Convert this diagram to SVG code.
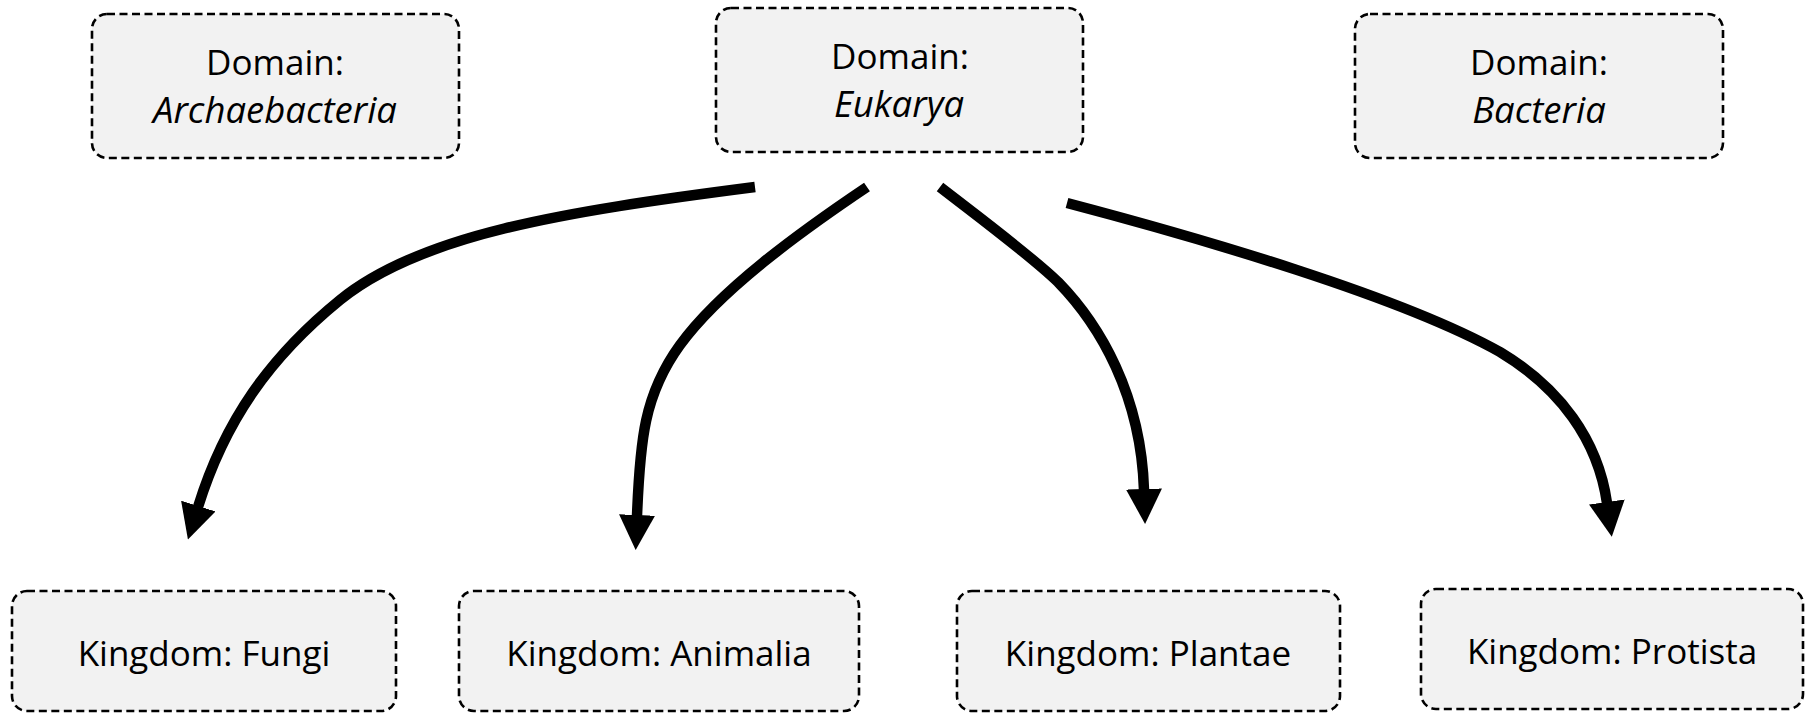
<svg xmlns="http://www.w3.org/2000/svg" width="1814" height="715" viewBox="0 0 1814 715">
  <style>
    .box { fill: #f2f2f2; stroke: #000; stroke-width: 2.6; stroke-dasharray: 8 4.5; }
    .t { font-family: "Open Sans", "Noto Sans", sans-serif; font-size: 35px; fill: #000; text-anchor: middle; }
    .i { font-style: italic; font-size: 36.5px; }
    .arrow { fill: none; stroke: #000; stroke-width: 10.5; marker-end: url(#head); }
  </style>
  <defs>
    <marker id="head" markerUnits="userSpaceOnUse" viewBox="0 -18 35 36" markerWidth="35" markerHeight="36" refX="1" refY="0" orient="auto">
      <path d="M0,-18 L35,0 L0,18 Z" fill="#000"/>
    </marker>
  </defs>
  <rect width="1814" height="715" fill="#fff"/>

  <g id="archaebacteria">
    <rect class="box" x="92" y="14" width="367" height="144" rx="15"/>
    <text class="t" x="275" y="75">Domain:</text>
    <text class="t i" x="275" y="123">Archaebacteria</text>
  </g>
  <g id="eukarya">
    <rect class="box" x="716" y="8" width="367" height="144" rx="15"/>
    <text class="t" x="900" y="69">Domain:</text>
    <text class="t i" x="899" y="117">Eukarya</text>
  </g>
  <g id="bacteria">
    <rect class="box" x="1355" y="14" width="368" height="144" rx="15"/>
    <text class="t" x="1539" y="75">Domain:</text>
    <text class="t i" x="1539" y="123">Bacteria</text>
  </g>

  <g id="fungi">
    <rect class="box" x="12" y="591" width="384" height="120" rx="15"/>
    <text class="t" x="204" y="666">Kingdom: Fungi</text>
  </g>
  <g id="animalia">
    <rect class="box" x="459" y="591" width="400" height="120" rx="15"/>
    <text class="t" x="659" y="666">Kingdom: Animalia</text>
  </g>
  <g id="plantae">
    <rect class="box" x="957" y="591" width="383" height="120" rx="15"/>
    <text class="t" x="1148" y="666">Kingdom: Plantae</text>
  </g>
  <g id="protista">
    <rect class="box" x="1421" y="589" width="382" height="120" rx="15"/>
    <text class="t" x="1612" y="664">Kingdom: Protista</text>
  </g>

  <g id="connectors">
    <path class="arrow" d="M755,187 C560,212 420,235 340,300 C270,357 225,420 198,507"/>
    <path class="arrow" d="M867,187 C800,232 720,290 680,345 C644,394.5 640,440 637,516"/>
    <path class="arrow" d="M940,187 C980,218 1030,255 1058,282 C1100,325 1141,395 1144,490"/>
    <path class="arrow" d="M1067,203 C1200,238 1400,296 1500,352 C1560,388 1598,440 1607,503"/>
  </g>
</svg>
